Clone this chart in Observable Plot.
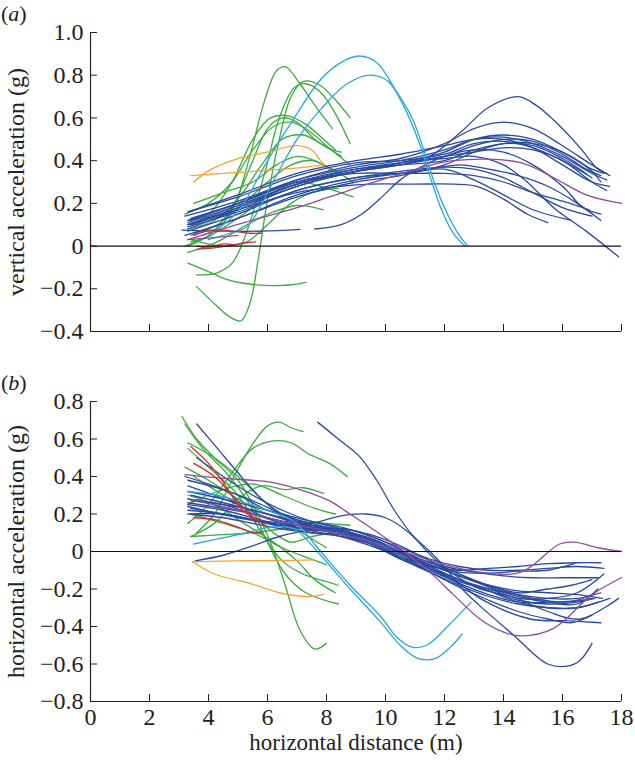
<!DOCTYPE html>
<html><head><meta charset="utf-8">
<script src="https://cdn.jsdelivr.net/npm/d3@7"></script>
<script src="https://cdn.jsdelivr.net/npm/@observablehq/plot@0.6"></script>
<style>
body{margin:0;background:#fff;}
#wrap{position:relative;width:635px;height:760px;font-family:"Liberation Serif","Times New Roman","DejaVu Serif",serif;}
#wrap svg{display:block;overflow:visible;font-family:"Liberation Serif","Times New Roman","DejaVu Serif",serif !important;}
#wrap svg text{font-family:"Liberation Serif","Times New Roman","DejaVu Serif",serif !important;}
.plabel{position:absolute;left:1px;font-size:22px;line-height:1;color:#222;}
</style></head><body><div id="wrap"><div class="plabel" style="top:3px">(<i>a</i>)</div><div class="plabel" style="top:372px">(<i>b</i>)</div></div>
<script>
// ---- tick values & labels ----
const xTicks = [0,2,4,6,8,10,12,14,16,18];
const yTicksA = [-0.4,-0.2,0,0.2,0.4,0.6,0.8,1.0];
const yTicksB = [-0.8,-0.6,-0.4,-0.2,0,0.2,0.4,0.6,0.8];
const yLabelA = "vertical acceleration (g)";
const yLabelB = "horizontal acceleration (g)";
const xLabel = "horizontal distance (m)";

// ---- panel (a): vertical acceleration, [distance, g] ----
const aGreen = [
  [[3.4,0.02],[4.2,0.06],[4.9,0.2],[5.4,0.42],[5.9,0.68],[6.3,0.82],[6.6,0.84],[7.1,0.76],[7.6,0.66],[8.2,0.55]],
  [[3.6,-0.19],[4.2,-0.27],[4.7,-0.33],[5.1,-0.35],[5.4,-0.27],[5.7,-0.05],[6.0,0.22],[6.4,0.5],[6.8,0.7],[7.2,0.77],[7.7,0.76],[8.2,0.7],[8.8,0.6]],
  [[3.6,-0.135],[4.3,-0.125],[4.8,-0.08],[5.2,0.03],[5.9,0.34],[6.4,0.6],[6.9,0.74],[7.3,0.76],[7.8,0.72],[8.3,0.62],[8.8,0.48]],
  [[3.3,-0.08],[4.0,-0.12],[4.7,-0.16],[5.5,-0.18],[6.3,-0.185],[6.9,-0.18],[7.3,-0.17]],
  [[3.3,0.0],[4.0,0.05],[4.8,0.18],[5.5,0.4],[6.0,0.55],[6.5,0.6],[7.0,0.58],[7.6,0.5],[8.2,0.45],[8.5,0.44]],
  [[3.2,0.15],[4.0,0.2],[4.8,0.3],[5.5,0.45],[6.2,0.56],[6.8,0.58],[7.4,0.54],[8.0,0.47],[8.8,0.38]],
  [[3.3,0.08],[4.2,0.12],[5.0,0.22],[5.8,0.38],[6.5,0.5],[7.2,0.52],[7.8,0.48],[8.5,0.42]],
  [[3.4,0.05],[4.3,0.1],[5.2,0.2],[6.0,0.3],[6.8,0.38],[7.5,0.4],[8.2,0.36],[8.9,0.3]],
  [[3.2,0.0],[4.2,0.06],[5.2,0.15],[6.2,0.25],[7.0,0.3],[7.8,0.28],[8.9,0.23]],
  [[3.3,-0.03],[4.3,0.02],[5.3,0.1],[6.2,0.16],[7.0,0.19],[7.9,0.17]],
  [[3.5,0.2],[4.5,0.25],[5.5,0.3],[6.3,0.38],[7.0,0.42],[7.6,0.4],[8.2,0.35]],
  [[3.3,0.12],[4.0,0.15],[4.8,0.3],[5.5,0.5],[6.1,0.6],[6.7,0.61],[7.3,0.57],[7.9,0.5],[8.3,0.45]],
  [[3.4,0.03],[4.5,0.0],[5.3,0.02],[6.0,0.1],[6.8,0.2],[7.5,0.25],[8.4,0.27]]
];
const aOrange = [
  [[3.4,0.33],[4.5,0.34],[5.5,0.35],[6.5,0.36],[7.3,0.37],[7.9,0.38]],
  [[3.5,0.3],[4.1,0.36],[5.0,0.41],[6.0,0.44],[7.0,0.47],[7.5,0.45],[7.8,0.4],[8.1,0.36]]
];
const aBlue = [
  [[3.3,0.1],[5,0.18],[7,0.29],[9,0.35],[10.5,0.38],[11.5,0.42],[12.6,0.54],[13.5,0.65],[14.5,0.7],[15.1,0.66],[15.7,0.59],[16.6,0.46],[17.2,0.36],[17.5,0.34]],
  [[3.3,0.12],[5,0.2],[7,0.31],[9,0.38],[10.5,0.41],[12,0.48],[13,0.55],[14,0.58],[15,0.55],[16,0.47],[17,0.38],[17.6,0.33]],
  [[3.3,0.08],[5,0.17],[7,0.28],[9,0.35],[10.5,0.39],[12,0.44],[13,0.5],[14,0.52],[15,0.5],[16,0.44],[17,0.36],[17.4,0.34]],
  [[3.2,0.14],[5,0.21],[7,0.31],[9,0.37],[10.5,0.4],[12,0.45],[13,0.5],[14,0.51],[15,0.48],[16,0.42],[17,0.34],[17.5,0.31]],
  [[3.3,0.1],[5,0.19],[7,0.29],[9,0.35],[10.5,0.38],[12,0.42],[13,0.47],[14,0.5],[15,0.49],[16,0.43],[16.8,0.36],[17.3,0.33]],
  [[3.4,0.13],[5,0.2],[7,0.3],[9,0.36],[10.5,0.38],[12,0.4],[13,0.45],[14,0.48],[15,0.47],[16,0.41],[16.8,0.34]],
  [[3.3,0.11],[5,0.19],[7,0.29],[9,0.36],[10.5,0.39],[12,0.42],[13,0.44],[14,0.46],[15,0.45],[16,0.4],[17,0.3],[17.5,0.26]],
  [[3.3,0.07],[5,0.15],[7,0.26],[9,0.32],[10.5,0.34],[11.5,0.36],[12.5,0.38],[13.5,0.36],[14.5,0.33],[15.5,0.28],[16.5,0.2],[17.3,0.12]],
  [[3.4,0.1],[5,0.18],[7,0.28],[9,0.35],[10.5,0.39],[12,0.41],[13,0.42],[14,0.38],[14.8,0.3],[15.7,0.18],[16.8,0.07],[17.9,-0.05]],
  [[7.6,0.08],[8.5,0.1],[9.2,0.15],[9.8,0.22],[10.5,0.31],[11.2,0.37],[12,0.42],[13,0.45],[14,0.44],[15,0.38],[16,0.28],[16.7,0.18],[17.3,0.15]],
  [[3.1,0.075],[4.5,0.07],[5.8,0.07],[7.1,0.078]],
  [[3.4,0.1],[5,0.17],[7,0.25],[8.5,0.28],[9.5,0.29],[11,0.29],[12.3,0.29],[13.1,0.28],[14,0.22],[14.8,0.15],[15.5,0.11]],
  [[3.3,0.16],[5,0.23],[7,0.33],[9,0.39],[10.5,0.4],[12,0.43],[13,0.48],[14,0.49],[15,0.46],[16,0.4],[17,0.32]],
  [[3.5,0.06],[5,0.13],[7,0.23],[9,0.3],[10.5,0.33],[12,0.38],[13,0.44],[14,0.48],[15,0.48],[16,0.44],[17,0.35],[17.3,0.3]],
  [[3.3,0.09],[5,0.16],[7,0.26],[9,0.32],[10.5,0.35],[12,0.37],[13,0.36],[14,0.32],[15,0.25],[16,0.18],[17,0.14]],
  [[3.4,0.12],[5,0.2],[7,0.3],[9,0.34],[10.5,0.34],[12,0.34],[13,0.33],[14,0.3],[15,0.25],[16,0.21],[16.9,0.17]],
  [[3.2,0.05],[5,0.13],[7,0.24],[9,0.31],[10.5,0.34],[12,0.36],[13,0.31],[14,0.24],[15,0.17],[16.3,0.12]],
  [[3.3,0.16],[5,0.24],[7,0.34],[9,0.4],[10.5,0.43],[12,0.47],[13,0.5],[14,0.5],[15,0.46],[16,0.38],[17,0.3],[17.6,0.28]]
];
const aLightBlue = [
  [[3.8,0.05],[4.5,0.1],[5.1,0.18],[6.0,0.4],[7.0,0.62],[7.8,0.78],[8.5,0.86],[9.1,0.89],[9.7,0.86],[10.3,0.74],[10.9,0.6],[11.3,0.45],[11.7,0.28],[12.1,0.15],[12.5,0.05],[12.8,0.0]],
  [[4.0,0.03],[4.7,0.06],[5.3,0.09],[6.3,0.33],[7.0,0.5],[7.8,0.64],[8.7,0.76],[9.5,0.8],[10.1,0.77],[10.6,0.66],[11.1,0.5],[11.5,0.33],[11.9,0.17],[12.3,0.06],[12.7,0.0]]
];
const aPurple = [
  [[3.3,0.03],[5.2,0.11],[7.0,0.18],[8.1,0.23],[10.1,0.32],[12.3,0.4],[14.6,0.39],[15.7,0.32],[16.8,0.24],[18.0,0.2]],
  [[3.3,0.03],[4.2,0.04],[5.0,0.05]]
];
const aRed = [
  [[3.5,0.05],[4.1,0.075],[4.8,0.07],[5.4,0.06],[5.8,0.06]],
  [[3.6,-0.015],[4.1,-0.01],[4.6,0.0],[5.2,0.015],[5.6,0.02]],
  [[3.6,0.0],[4.0,-0.005],[4.5,0.01],[4.9,0.005]]
];

// ---- panel (b): horizontal acceleration, [distance, g] ----
const bGreen = [
  [[3.1,0.72],[3.6,0.6],[4.2,0.5],[5.0,0.38],[5.6,0.22],[6.1,0.05],[6.6,-0.18],[7.1,-0.42],[7.6,-0.52],[8.0,-0.49]],
  [[3.6,0.1],[4.2,0.2],[4.8,0.38],[5.4,0.55],[6.0,0.67],[6.4,0.69],[6.8,0.66],[7.2,0.64]],
  [[3.3,0.15],[4.0,0.25],[4.8,0.42],[5.5,0.55],[6.2,0.59],[6.8,0.58],[7.4,0.52],[8.1,0.47],[8.7,0.4]],
  [[3.4,0.08],[4.2,0.15],[5.0,0.28],[5.8,0.35],[6.6,0.33],[7.2,0.34],[7.9,0.31]],
  [[3.2,0.45],[4.0,0.38],[5.0,0.28],[6.0,0.2],[7.0,0.16],[8.0,0.15],[8.8,0.14]],
  [[3.3,0.55],[4.0,0.45],[5.0,0.3],[5.8,0.1],[6.5,-0.05],[7.2,-0.12],[8.0,-0.16],[8.4,-0.18]],
  [[3.2,0.68],[3.8,0.55],[4.6,0.42],[5.4,0.25],[6.0,0.05],[6.6,-0.12],[7.3,-0.22],[8.4,-0.28]],
  [[3.3,0.3],[4.2,0.25],[5.2,0.15],[6.2,0.05],[7.0,-0.05],[7.6,-0.15],[8.3,-0.22]],
  [[3.4,0.2],[4.5,0.15],[5.5,0.1],[6.5,0.02],[7.3,-0.03],[8.0,-0.07]],
  [[3.5,0.4],[4.5,0.3],[5.5,0.2],[6.2,0.1],[6.8,0.05],[7.5,0.08],[8.2,0.1]],
  [[3.4,0.08],[4.5,0.09],[5.5,0.1],[6.5,0.12],[7.5,0.12]],
  [[3.3,0.25],[4.3,0.32],[5.5,0.36],[6.5,0.3],[7.6,0.23],[8.3,0.2]],
  [[3.3,0.58],[4.2,0.5],[5.0,0.4],[6.0,0.25],[7.0,0.12],[8.0,0.02]]
];
const bOrange = [
  [[3.45,-0.055],[5.0,-0.05],[6.5,-0.048],[7.6,-0.045]],
  [[3.45,-0.055],[4.2,-0.12],[5.4,-0.17],[6.4,-0.22],[7.35,-0.24],[7.9,-0.23]]
];
const bBlue = [
  [[3.6,0.68],[4.3,0.55],[5,0.42],[5.8,0.28],[6.5,0.2],[7.5,0.13],[8.5,0.1],[9.5,0.04],[10.5,-0.04],[11.5,-0.1],[12.5,-0.16],[13.5,-0.2],[14.5,-0.23],[15.5,-0.25],[16.5,-0.25],[17.3,-0.22]],
  [[3.2,0.4],[4,0.36],[5,0.3],[6,0.22],[7,0.17],[8,0.13],[9,0.09],[10,0.03],[11,-0.04],[12,-0.1],[13,-0.16],[14,-0.21],[15,-0.25],[16,-0.27],[17,-0.25]],
  [[3.3,0.35],[4.2,0.3],[5,0.25],[6,0.18],[7,0.15],[8,0.13],[9,0.11],[10,0.05],[11,-0.03],[12,-0.08],[13,-0.11],[14,-0.13],[15,-0.14],[16,-0.14],[17.2,-0.14]],
  [[3.3,0.28],[4.5,0.25],[5.5,0.2],[6.5,0.15],[7.5,0.11],[8.5,0.08],[9.5,0.03],[10.5,-0.03],[11.5,-0.08],[12.5,-0.1],[13.5,-0.09],[14.5,-0.08],[15.5,-0.065],[16.5,-0.06],[17.3,-0.06]],
  [[3.3,0.25],[4.5,0.22],[5.5,0.18],[6.5,0.14],[7.5,0.12],[8.5,0.11],[9.5,0.07],[10.5,0.0],[11.5,-0.07],[12.5,-0.11],[13.5,-0.115],[14.5,-0.105],[15.5,-0.1],[16.4,-0.065]],
  [[3.3,0.22],[4.5,0.2],[5.5,0.17],[6.5,0.15],[7.5,0.13],[8.5,0.11],[9.5,0.06],[10.5,-0.01],[11.5,-0.09],[12.5,-0.16],[13.5,-0.21],[14.5,-0.26],[15.5,-0.28],[16.5,-0.27],[17.1,-0.25]],
  [[3.4,0.3],[4.5,0.26],[5.5,0.22],[6.5,0.18],[7.5,0.14],[8.5,0.11],[9.5,0.06],[10.5,0.0],[11.5,-0.06],[12.5,-0.12],[13.5,-0.19],[14.5,-0.24],[15.5,-0.27],[16.5,-0.28],[17.2,-0.2]],
  [[3.4,0.2],[4.5,0.2],[5.5,0.17],[6.5,0.14],[7.5,0.12],[8.5,0.12],[9.5,0.09],[10.5,0.03],[11.5,-0.05],[12.5,-0.12],[13.5,-0.18],[14.5,-0.22],[15.5,-0.2],[16.3,-0.18],[17.0,-0.15]],
  [[7.7,0.69],[8.4,0.6],[9.1,0.51],[9.7,0.38],[10.3,0.22],[10.9,0.09],[11.5,0.0],[12.1,-0.1],[12.6,-0.2],[13.2,-0.29],[14.3,-0.44],[15.5,-0.6],[16.2,-0.61],[16.6,-0.58],[17.0,-0.49]],
  [[3.55,-0.05],[4.5,-0.02],[5.5,0.03],[6.4,0.08],[7.3,0.11],[8.5,0.11],[9.5,0.07],[10.5,0.0],[11.5,-0.08],[12.5,-0.17],[13.2,-0.25],[14.9,-0.36],[16.2,-0.37],[17.3,-0.38]],
  [[3.3,0.24],[5,0.18],[6.5,0.14],[7.5,0.15],[8.5,0.19],[9.3,0.2],[10.0,0.18],[10.8,0.1],[11.6,-0.03],[12.3,-0.12],[13.2,-0.2],[14.3,-0.24],[15.5,-0.32],[16.6,-0.36],[17.9,-0.25]],
  [[3.6,0.5],[4.5,0.4],[5.5,0.3],[6.5,0.22],[7.5,0.16],[8.5,0.12],[9.5,0.06],[10.5,-0.01],[11.5,-0.08],[12.5,-0.15],[13.5,-0.21],[14.5,-0.27],[15.5,-0.3],[16.5,-0.3],[17.6,-0.25]],
  [[3.3,0.26],[4.5,0.23],[5.5,0.2],[6.5,0.16],[7.5,0.12],[8.5,0.09],[9.5,0.04],[10.5,-0.03],[11.5,-0.1],[12.5,-0.17],[13.5,-0.23],[14.5,-0.27],[15.5,-0.27],[16.5,-0.26],[17.1,-0.22]],
  [[3.3,0.32],[4.5,0.28],[5.5,0.24],[6.5,0.2],[7.5,0.16],[8.5,0.13],[9.5,0.08],[10.5,0.02],[11.5,-0.04],[12.5,-0.08],[13.5,-0.1],[14.5,-0.1],[15.5,-0.09],[16.5,-0.08],[17.4,-0.09]],
  [[3.4,0.23],[4.5,0.2],[5.5,0.17],[6.5,0.13],[7.5,0.1],[8.5,0.09],[9.5,0.05],[10.5,-0.02],[11.5,-0.09],[12.5,-0.15],[13.5,-0.2],[14.5,-0.25],[15.5,-0.25],[16.5,-0.22],[17.4,-0.12]],
  [[3.3,0.38],[4.5,0.33],[5.5,0.27],[6.5,0.2],[7.5,0.14],[8.5,0.1],[9.5,0.05],[10.5,-0.03],[11.5,-0.11],[12.5,-0.19],[13.5,-0.26],[14.5,-0.32],[15.5,-0.36],[16.3,-0.38],[17.0,-0.34]],
  [[3.4,0.27],[4.5,0.25],[5.5,0.22],[6.6,0.17],[7.5,0.13],[8.5,0.1],[9.5,0.06],[10.5,-0.01],[11.5,-0.07],[12.5,-0.13],[13.5,-0.18],[14.5,-0.21],[15.5,-0.22],[16.5,-0.23],[17.35,-0.25]],
  [[3.3,0.2],[4.5,0.18],[5.5,0.15],[6.5,0.12],[7.5,0.1],[8.5,0.08],[9.5,0.04],[10.5,-0.04],[11.5,-0.11],[12.5,-0.18],[13.5,-0.24],[14.5,-0.28],[15.5,-0.3],[16.5,-0.3],[17.2,-0.27]]
];
const bLightBlue = [
  [[3.3,0.32],[4.3,0.3],[5.2,0.26],[6.0,0.22],[6.9,0.16],[7.8,0.0],[8.8,-0.18],[9.8,-0.34],[10.4,-0.46],[10.9,-0.51],[11.4,-0.5],[12.1,-0.4],[12.9,-0.27]],
  [[3.5,0.04],[4.4,0.07],[5.3,0.1],[6.1,0.13],[6.9,0.12],[7.8,-0.02],[8.8,-0.2],[9.8,-0.37],[10.5,-0.5],[11.1,-0.57],[11.7,-0.57],[12.2,-0.51],[12.6,-0.44]]
];
const bPurple = [
  [[3.2,0.41],[4.5,0.39],[6.1,0.37],[7.1,0.33],[8.1,0.27],[8.7,0.21],[10.2,0.05],[11.5,-0.11],[12.3,-0.23],[13.2,-0.36],[14.0,-0.43],[14.6,-0.45],[15.7,-0.41],[17.0,-0.23],[18.0,-0.14]],
  [[3.3,0.28],[5.0,0.22],[6.5,0.16],[8.0,0.11],[10.0,0.03],[12.0,-0.07],[13.2,-0.11],[14.6,-0.11],[15.9,0.04],[16.4,0.05],[17.2,0.02],[18.0,0.0]]
];
const bRed = [
  [[3.4,0.56],[4.0,0.47],[4.5,0.37],[5.1,0.23],[5.7,0.16]],
  [[3.5,0.47],[4.2,0.4],[4.8,0.3],[5.4,0.2],[6.0,0.13]],
  [[3.5,0.18],[4.2,0.17],[5.0,0.13],[5.5,0.1],[5.8,0.1]]
];

// ---- colours ----
const GREEN = "#3bab3f", BLUE = "#2a4aa0", LBLUE = "#2ba6df", ORANGE = "#f5a532", RED = "#d42a2e", PURPLE = "#8f4a9e";
const INK = "#222";
const FONT = "'Liberation Serif', 'Times New Roman', 'DejaVu Serif', serif";

function rows(series) {
  const out = [];
  series.forEach((s, i) => s.forEach(([x, y]) => out.push({id: i, x, y})));
  return out;
}
function lines(series, color) {
  return Plot.line(rows(series), {x: "x", y: "y", z: "id", stroke: color, strokeWidth: 1.3, curve: "catmull-rom"});
}
const fmt = d => d === 0 ? "0" : (d < 0 ? "\u2212" : "") + Math.abs(d).toFixed(1);

function panel({height, marginTop, marginBottom, yDomain, yTicks, yLabel, groups, xText}) {
  const marks = [
    Plot.axisY(yTicks, {tickSize: 0, tickPadding: 7, tickFormat: fmt, fontSize: 24, label: null, fontFamily: FONT}),
    Plot.axisY(yTicks, {tickSize: 7, dx: 7, text: null, label: null, stroke: INK}),
    Plot.axisX(xTicks, {tickSize: 7, dy: -7, text: null, label: null, stroke: INK}),
    Plot.ruleX([0], {stroke: INK, strokeWidth: 1.2}),
    Plot.ruleY([yDomain[0]], {stroke: INK, strokeWidth: 1.2}),
    ...groups.map(([s, c]) => lines(s, c)),
    Plot.ruleY([0], {stroke: "#111", strokeWidth: 1.2}),
    Plot.text([yLabel], {frameAnchor: "left", textAnchor: "middle", dx: -74, rotate: -90, fontSize: 24, fill: INK, fontFamily: FONT})
  ];
  if (xText) {
    marks.push(Plot.axisX(xTicks, {tickSize: 0, tickPadding: 6, fontSize: 24, label: null, fontFamily: FONT}));
    marks.push(Plot.text([xLabel], {frameAnchor: "bottom", dy: 48, fontSize: 23, fill: INK, fontFamily: FONT}));
  }
  const svg = Plot.plot({
    width: 635, height, marginTop, marginBottom, marginLeft: 90, marginRight: 14,
    x: {domain: [0, 18], label: null},
    y: {domain: yDomain, label: null},
    style: {fontFamily: FONT, fontSize: "24px", color: INK, background: "transparent", overflow: "visible"},
    marks
  });
  svg.setAttribute("font-family", FONT);
  return svg;
}

const wrap = document.getElementById("wrap");
wrap.appendChild(panel({
  height: 350, marginTop: 32, marginBottom: 19, yDomain: [-0.4, 1.0], yTicks: yTicksA, yLabel: yLabelA, xText: false,
  groups: [[aGreen, GREEN], [aOrange, ORANGE], [aBlue, BLUE], [aLightBlue, LBLUE], [aPurple, PURPLE], [aRed, RED]]
}));
wrap.appendChild(panel({
  height: 410, marginTop: 51, marginBottom: 59, yDomain: [-0.8, 0.8], yTicks: yTicksB, yLabel: yLabelB, xText: true,
  groups: [[bGreen, GREEN], [bOrange, ORANGE], [bBlue, BLUE], [bLightBlue, LBLUE], [bPurple, PURPLE], [bRed, RED]]
}));
</script></body></html>
